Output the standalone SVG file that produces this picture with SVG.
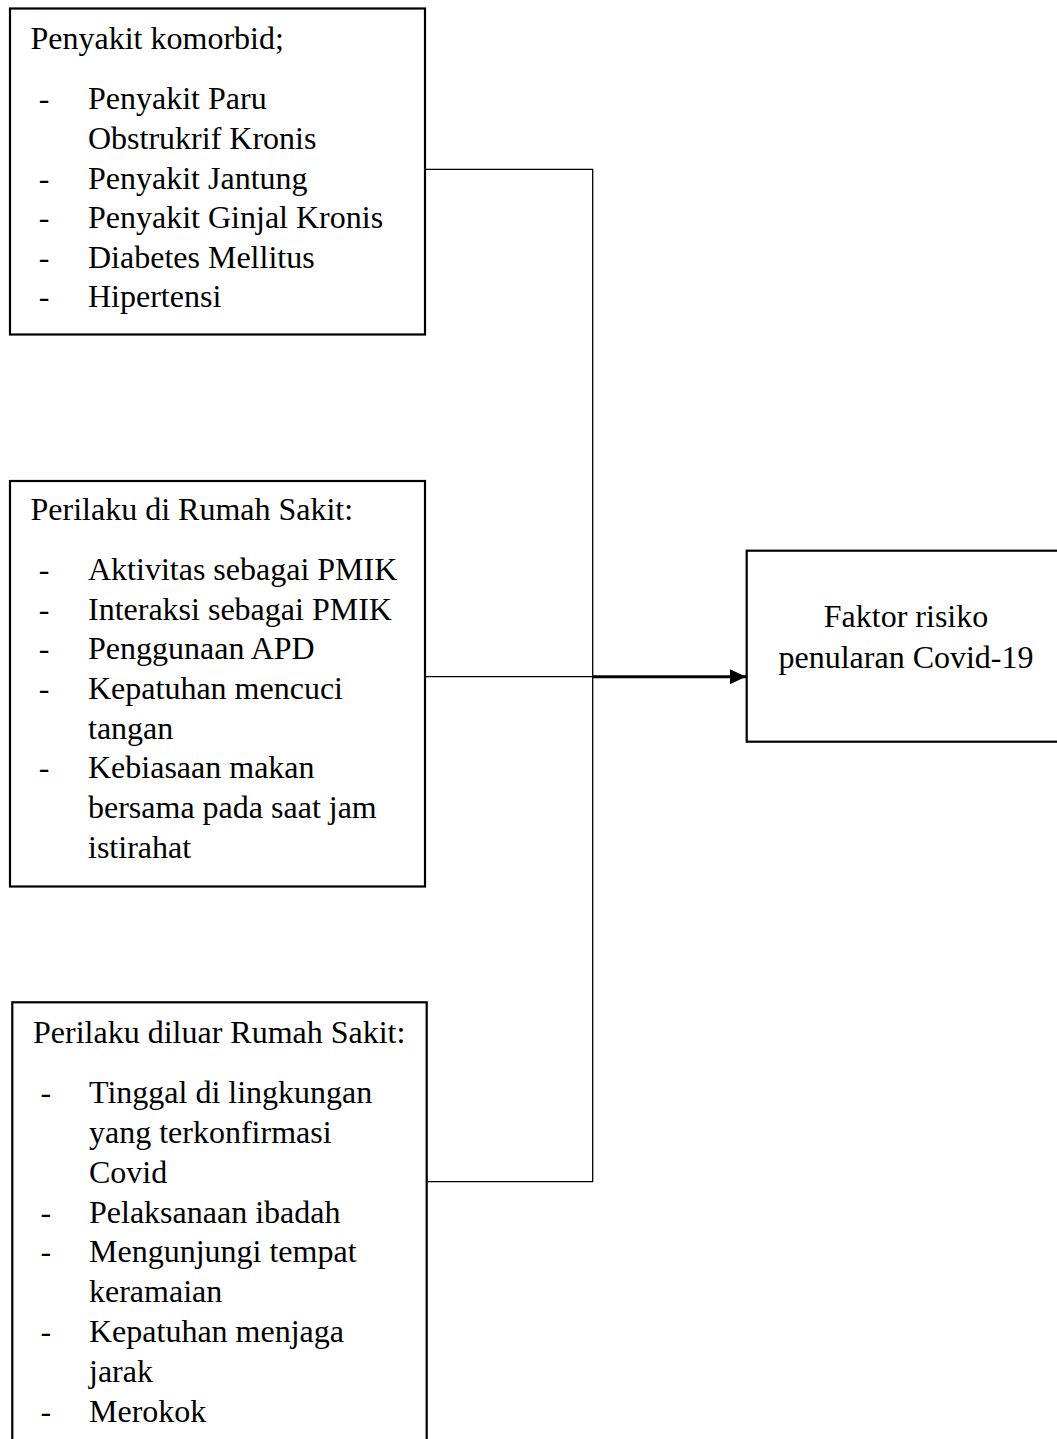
<svg xmlns="http://www.w3.org/2000/svg" width="1057" height="1439" viewBox="0 0 1057 1439">
<style>
.box{fill:#fff;stroke:#000;stroke-width:2.2}
.t{font-family:"Liberation Serif","Times New Roman",serif;font-size:32px;fill:#000}
.c{text-anchor:middle}
.ln{fill:none;stroke:#000;stroke-width:1.3}
</style>
<defs>
<marker id="ah" markerWidth="16" markerHeight="15" refX="16" refY="7.5" orient="auto" markerUnits="userSpaceOnUse">
<path d="M0,0 L16,7.5 L0,15 Z" fill="#000"/>
</marker>
</defs>
<rect width="1057" height="1439" fill="#fff"/>
<g id="connectors">
<polyline class="ln" points="425,169.3 592.7,169.3 592.7,1181.7 427,1181.7"/>
<line class="ln" x1="425" y1="676.7" x2="592.7" y2="676.7"/>
<line x1="592.7" y1="676.7" x2="746" y2="676.7" stroke="#000" stroke-width="3" marker-end="url(#ah)"/>
</g>
<g id="node-komorbid">
<rect class="box" x="10" y="8.5" width="415" height="326"/>
<text class="t" x="30.5" y="49.3">Penyakit komorbid;</text>
<text class="t" x="38.7" y="109.3">-</text><text class="t" x="88" y="109.3">Penyakit Paru</text>
<text class="t" x="88" y="149">Obstrukrif Kronis</text>
<text class="t" x="38.7" y="188.6">-</text><text class="t" x="88" y="188.6">Penyakit Jantung</text>
<text class="t" x="38.7" y="228.3">-</text><text class="t" x="88" y="228.3">Penyakit Ginjal Kronis</text>
<text class="t" x="38.7" y="268">-</text><text class="t" x="88" y="268">Diabetes Mellitus</text>
<text class="t" x="38.7" y="307.3">-</text><text class="t" x="88" y="307.3">Hipertensi</text>
</g>
<g id="node-rumahsakit">
<rect class="box" x="10" y="481" width="415" height="405.5"/>
<text class="t" x="30.5" y="520">Perilaku di Rumah Sakit:</text>
<text class="t" x="38.7" y="580">-</text><text class="t" x="88" y="580">Aktivitas sebagai PMIK</text>
<text class="t" x="38.7" y="619.7">-</text><text class="t" x="88" y="619.7">Interaksi sebagai PMIK</text>
<text class="t" x="38.7" y="659.3">-</text><text class="t" x="88" y="659.3">Penggunaan APD</text>
<text class="t" x="38.7" y="699">-</text><text class="t" x="88" y="699">Kepatuhan mencuci</text>
<text class="t" x="88" y="738.7">tangan</text>
<text class="t" x="38.7" y="778.3">-</text><text class="t" x="88" y="778.3">Kebiasaan makan</text>
<text class="t" x="88" y="818">bersama pada saat jam</text>
<text class="t" x="88" y="857.7">istirahat</text>
</g>
<g id="node-diluar">
<rect class="box" x="12.3" y="1002.3" width="414.4" height="460"/>
<text class="t" x="33" y="1043.3">Perilaku diluar Rumah Sakit:</text>
<text class="t" x="40.4" y="1103.3">-</text><text class="t" x="89" y="1103.3">Tinggal di lingkungan</text>
<text class="t" x="89" y="1143">yang terkonfirmasi</text>
<text class="t" x="89" y="1182.7">Covid</text>
<text class="t" x="40.4" y="1222.5">-</text><text class="t" x="89" y="1222.5">Pelaksanaan ibadah</text>
<text class="t" x="40.4" y="1262.3">-</text><text class="t" x="89" y="1262.3">Mengunjungi tempat</text>
<text class="t" x="89" y="1302">keramaian</text>
<text class="t" x="40.4" y="1342">-</text><text class="t" x="89" y="1342">Kepatuhan menjaga</text>
<text class="t" x="89" y="1381.8">jarak</text>
<text class="t" x="40.4" y="1421.5">-</text><text class="t" x="89" y="1421.5">Merokok</text>
</g>
<g id="node-faktor">
<rect class="box" x="746.7" y="550.7" width="330" height="191"/>
<text class="t c" x="906" y="627.3">Faktor risiko</text>
<text class="t c" x="906" y="668.3">penularan Covid-19</text>
</g>
</svg>
